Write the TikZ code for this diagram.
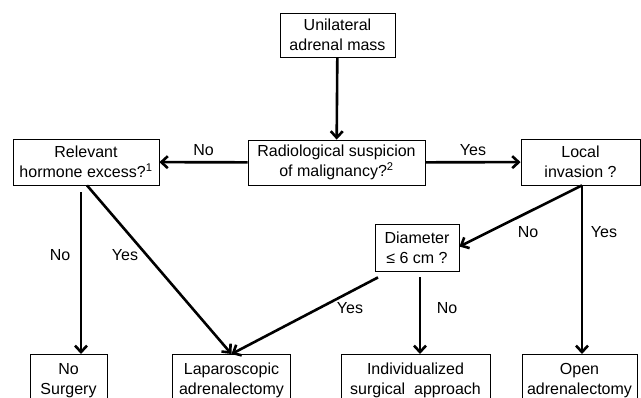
\documentclass[tikz,border=0pt]{standalone}
\usepackage{fontspec}
\setmainfont{Liberation Sans}
\usetikzlibrary{arrows.meta,calc}

\begin{document}
\begin{tikzpicture}[x=1pt, y=-1pt,
    box/.style={draw, line width=0.8pt, align=center, inner sep=1pt,
        font=\fontsize{16}{20}\selectfont},
    arr/.style={line width=2.6pt, -{Straight Barb[length=6.5pt,width=12pt]}},
    lbl/.style={font=\fontsize{16}{20}\selectfont}]
    \useasboundingbox (0,0) rectangle (641,397);
    \clip (0,0) rectangle (641,397);

    \node[box, minimum width=115, minimum height=44] (Mass) at (337.5,35) {Unilateral\\adrenal mass};
    \node[box, minimum width=177, minimum height=45] (Radio) at (336.5,162.5) {Radiological suspicion\\of malignancy?\textsuperscript{2}};
    \node[box, minimum width=146, minimum height=46] (Hormone) at (86,162) {Relevant\\hormone excess?\textsuperscript{1}};
    \node[box, minimum width=119, minimum height=46] (Invasion) at (580.5,162) {Local\\invasion ?};
    \node[box, minimum width=84, minimum height=47] (Diam) at (417,247.5) {Diameter\\≤ 6 cm ?};

    % outcomes, cut off at the lower edge
    \node[box, anchor=north, minimum width=77, minimum height=52] (NoSurg) at (68.5,354) {No\\Surgery};
    \node[box, anchor=north, minimum width=118, minimum height=52] (Lap) at (231.5,354) {Laparoscopic\\adrenalectomy};
    \node[box, anchor=north, minimum width=149, minimum height=52] (Indiv) at (415.5,354) {Individualized\\surgical~ approach};
    \node[box, anchor=north, minimum width=115, minimum height=52] (Open) at (579.5,354) {Open\\adrenalectomy};

    \draw[arr] (Mass) -- (Radio);
    \draw[arr] (Radio) -- (Hormone) node[lbl, midway, above=2pt] {No};
    \draw[arr] (Radio) -- (Invasion) node[lbl, midway, above=2pt] {Yes};

    \draw[arr] ([xshift=1.5pt]Invasion.south) -- ([xshift=2.5pt]Open.north);
    \draw[arr] ([xshift=1.5pt]Invasion.south) -- ([yshift=1pt]Diam.east);
    \node[lbl] (InvNo) at (528,232) {No};
    \node[lbl] (InvYes) at (604,232) {Yes};

    \draw[arr] ([xshift=-39pt,yshift=-6pt]Diam.south) -- (Lap.north);
    \draw[arr] ([xshift=3pt,yshift=-6pt]Diam.south) -- ([xshift=4.5pt]Indiv.north);
    \node[lbl] (DiamYes) at (350,308) {Yes};
    \node[lbl] (DiamNo) at (447,308) {No};

    \draw[arr] ([xshift=-5pt,yshift=-7pt]Hormone.south) -- ([xshift=12.5pt]NoSurg.north);
    \draw[arr] ([xshift=1pt]Hormone.south) -- (Lap.north);
    \node[lbl] (HorNo) at (60,255) {No};
    \node[lbl] (HorYes) at (125,255) {Yes};
\end{tikzpicture}
\end{document}
